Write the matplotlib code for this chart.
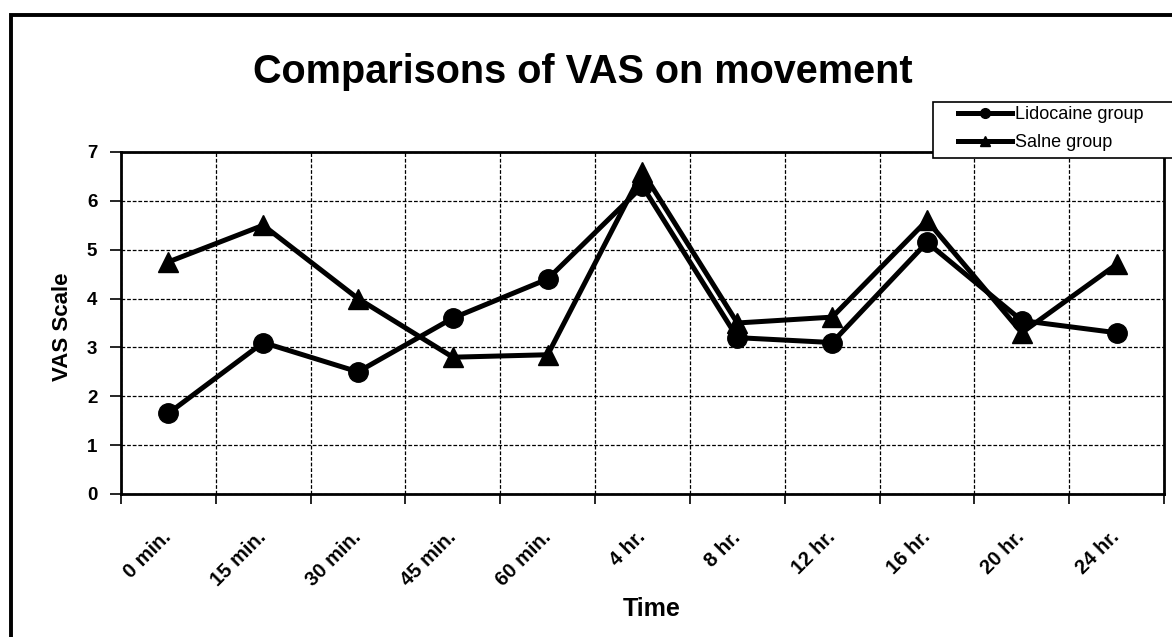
import matplotlib.pyplot as plt
import matplotlib.transforms as mtransforms
from matplotlib.patches import Rectangle
import numpy as np

plt.rcParams['font.family'] = ['Liberation Sans', 'DejaVu Sans']

times = ['0 min.', '15 min.', '30 min.', '45 min.', '60 min.', '4 hr.',
         '8 hr.', '12 hr.', '16 hr.', '20 hr.', '24 hr.']
lidocaine = [1.65, 3.1, 2.5, 3.6, 4.4, 6.3, 3.2, 3.1, 5.15, 3.55, 3.3]
saline = [4.75, 5.5, 4.0, 2.8, 2.85, 6.6, 3.5, 3.62, 5.6, 3.3, 4.7]

W, H = 1172, 637
fig = plt.figure(figsize=(W/100, H/100), dpi=100)
ax = fig.add_axes([0.1032, 0.2245, 0.8900, 0.5369])

# outer frame (cut off at right and bottom like the original)
fig.patches.append(Rectangle((11/W, -0.05), 1.2, 1 - 15/H + 0.05,
                             transform=fig.transFigure, fill=False,
                             edgecolor='black', linewidth=2.8))

x = np.arange(len(times))
ax.plot(x, lidocaine, color='black', linewidth=3.6, marker='o',
        markersize=14, label='Lidocaine group')
ax.plot(x, saline, color='black', linewidth=3.6, marker='^',
        markersize=15, label='Salne group')

ax.set_xlim(-0.5, len(times) - 0.5)
ax.set_ylim(0, 7)
ax.set_yticks(range(0, 8))
ax.set_yticklabels([str(v) for v in range(0, 8)], fontsize=13.5, fontweight='bold')
ax.set_xticks(x)
ax.set_xticklabels(times, rotation=45, ha='right', va='center', rotation_mode='anchor',
                   fontsize=14.5, fontweight='bold')
shift = mtransforms.ScaledTranslation(-6/100, 0, fig.dpi_scale_trans)
for lab in ax.get_xticklabels():
    lab.set_transform(lab.get_transform() + shift)
ax.set_xticks(np.arange(-0.5, len(times)), minor=True)
ax.tick_params(axis='x', which='major', length=0, pad=29)
ax.tick_params(axis='x', which='minor', length=7, width=1.2, direction='out')
ax.tick_params(axis='y', length=8, width=1.2, direction='out', pad=9)

ax.grid(True, axis='y', which='major', linestyle=(0, (3, 1.5)), color='black', linewidth=0.9)
ax.grid(True, axis='x', which='minor', linestyle=(0, (3, 1.5)), color='black', linewidth=0.9)

for s in ax.spines.values():
    s.set_linewidth(2)
    s.set_color('black')

ax.set_ylabel('VAS Scale', fontsize=16, fontweight='bold')
ax.yaxis.set_label_coords(-0.046, 0.49)
ax.set_xlabel('Time', fontsize=18, fontweight='bold')
ax.xaxis.set_label_coords(0.509, -0.30)
fig.text(0.497, 0.887, 'Comparisons of VAS on movement', ha='center', va='center',
         fontsize=28.5, fontweight='bold')

# legend box running off the right edge, as in the original
ax.add_patch(Rectangle((933/W, 1 - 158/H), 0.3, 56/H, transform=fig.transFigure,
                       facecolor='white', edgecolor='black', linewidth=1.2,
                       clip_on=False, zorder=4))
leg = ax.legend(loc='upper left', bbox_to_anchor=(958/W, 1 - 106/H),
                bbox_transform=fig.transFigure, fontsize=13, frameon=False,
                handlelength=3.0, markerscale=0.5, borderpad=0, labelspacing=0.6,
                handletextpad=0.17, borderaxespad=0)
leg.set_zorder(5)

plt.savefig('out.png', dpi=100)
